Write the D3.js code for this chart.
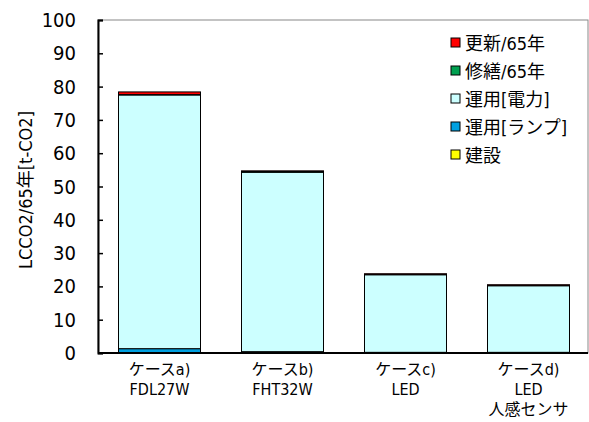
<!DOCTYPE html>
<html>
<head>
<meta charset="utf-8">
<script src="https://cdn.jsdelivr.net/npm/d3@7"></script>
<style>
  body { margin: 0; background: #fff; }
  text { font-family: "DejaVu Sans Condensed", "Liberation Sans Narrow", "Noto Sans CJK JP", sans-serif; }
</style>
</head>
<body>
<div id="chart"></div>
<script>
"use strict"

// categories (x labels, one array of lines per bar)
let cases = ["a", "b", "c", "d"];
let caseLabels = [["ケースa)", "FDL27W"], ["ケースb)", "FHT32W"], ["ケースc)", "LED"], ["ケースd)", "LED", "人感センサ"]];

// series, stacked from the bottom up
let seriesNames = ["建設", "運用[ランプ]", "運用[電力]", "修繕/65年", "更新/65年"];
let seriesColors = ["#ffff00", "#00a0e0", "#ccffff", "#00a050", "#ff0000"];
let kensetsu = [0.1, 0.1, 0.1, 0.1];
let lamp = [1.2, 0.3, 0.1, 0.1];
let denryoku = [76.2, 53.9, 23.3, 20.0];
let shuzen = [0.1, 0.1, 0.1, 0.1];
let koshin = [0.8, 0.3, 0.2, 0.2];

let yTicks = [0, 10, 20, 30, 40, 50, 60, 70, 80, 90, 100];

let width = 589, height = 422;
let plotL = 98, plotR = 588, plotT = 20, plotB = 353;

let svg = d3.select("#chart").append("svg")
    .attr("width", width)
    .attr("height", height);

let x = d3.scaleBand().domain(cases).range([plotL, plotL + 4 * 123]).paddingInner(41 / 123).paddingOuter(20.5 / 123);
let y = d3.scaleLinear().domain([0, 100]).range([plotB, plotT]);

// plot area frame
svg.append("rect")
    .attr("x", plotL).attr("y", plotT)
    .attr("width", plotR - plotL).attr("height", plotB - plotT)
    .attr("fill", "none").attr("stroke", "#888").attr("stroke-width", 1);

// stacked bars
let rows = cases.map((c, i) => ({
    key: c,
    s0: kensetsu[i], s1: lamp[i], s2: denryoku[i], s3: shuzen[i], s4: koshin[i]
}));
let stack = d3.stack().keys(["s0", "s1", "s2", "s3", "s4"])(rows);

stack.forEach((layer, k) => {
    svg.append("g")
        .selectAll("rect")
        .data(layer)
        .join("rect")
        .attr("x", d => x(d.data.key))
        .attr("width", x.bandwidth())
        .attr("y", d => y(d[1]))
        .attr("height", d => y(d[0]) - y(d[1]))
        .attr("fill", seriesColors[k])
        .attr("stroke", "#000")
        .attr("stroke-width", 1);
});

// y axis
let yAxis = d3.axisRight(y).tickValues(yTicks).tickSize(5).tickFormat("");
let ya = svg.append("g").attr("transform", `translate(${plotL},0)`).call(yAxis);
ya.select(".domain").attr("stroke", "#000").attr("stroke-width", 2);
ya.selectAll(".tick line").attr("stroke", "#000").attr("stroke-width", 1.5);

svg.append("g").selectAll("text")
    .data(yTicks)
    .join("text")
    .attr("x", 76)
    .attr("y", d => y(d) + 7)
    .attr("text-anchor", "end")
    .attr("font-size", 20)
    .text(d => d);

// x axis line
svg.append("line")
    .attr("x1", plotL).attr("x2", plotR)
    .attr("y1", plotB).attr("y2", plotB)
    .attr("stroke", "#000").attr("stroke-width", 2);

// x labels
cases.forEach((c, i) => {
    svg.append("g").selectAll("text")
        .data(caseLabels[i])
        .join("text")
        .attr("x", x(c) + x.bandwidth() / 2)
        .attr("y", (d, j) => 375 + j * 20)
        .attr("text-anchor", "middle")
        .attr("font-size", 16)
        .text(d => d);
});

// y title
svg.append("text")
    .attr("transform", "translate(32,190) rotate(-90)")
    .attr("text-anchor", "middle")
    .attr("font-size", 18)
    .text("LCCO2/65年[t-CO2]");

// legend, top entry first
let legendOrder = [4, 3, 2, 1, 0];
let legend = svg.append("g").selectAll("g")
    .data(legendOrder)
    .join("g")
    .attr("transform", (d, i) => `translate(451,${43 + i * 28})`);

legend.append("rect")
    .attr("x", 0).attr("y", -5)
    .attr("width", 9).attr("height", 9)
    .attr("fill", d => seriesColors[d])
    .attr("stroke", "#000").attr("stroke-width", 1);

legend.append("text")
    .attr("x", 14).attr("y", 7)
    .attr("font-size", 18)
    .text(d => seriesNames[d]);
</script>
</body>
</html>
